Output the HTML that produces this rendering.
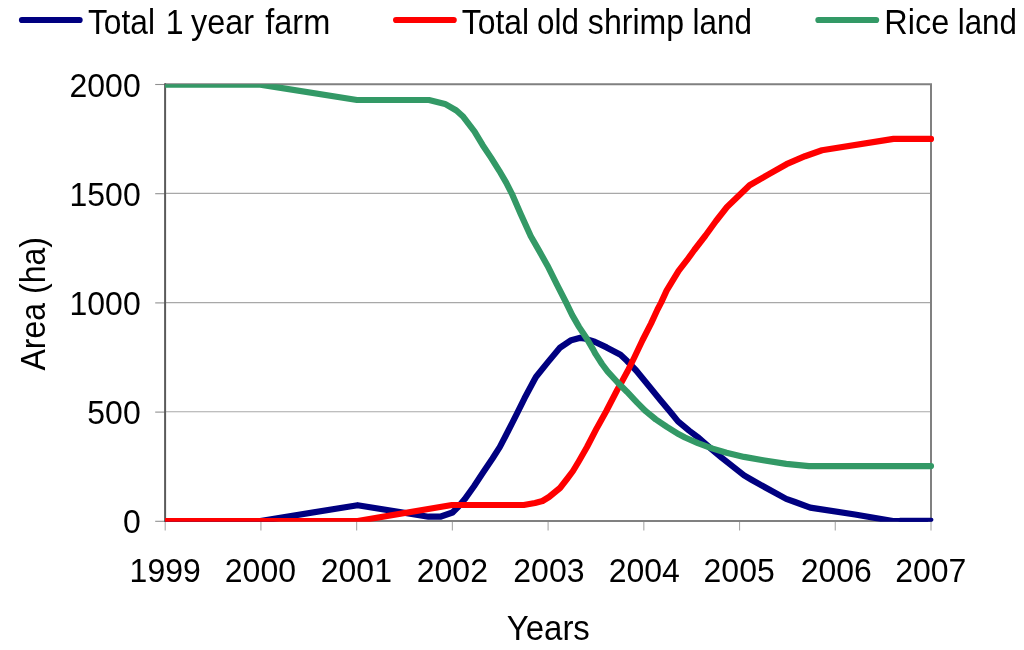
<!DOCTYPE html>
<html><head><meta charset="utf-8"><title>Chart</title>
<style>html,body{margin:0;padding:0;background:#fff;}body{width:1024px;height:650px;overflow:hidden;font-family:"Liberation Sans",sans-serif;}svg{display:block;will-change:transform;}</style>
</head><body>
<svg width="1024" height="650" viewBox="0 0 1024 650" font-family="Liberation Sans, sans-serif" fill="#000">
<defs><clipPath id="pc"><rect x="165" y="84.2" width="776" height="437.60"/></clipPath></defs>
<rect width="1024" height="650" fill="#fff"/>
<line x1="165" y1="411.80" x2="931" y2="411.80" stroke="#a8a8a8" stroke-width="1.1"/>
<line x1="165" y1="302.60" x2="931" y2="302.60" stroke="#a8a8a8" stroke-width="1.1"/>
<line x1="165" y1="193.40" x2="931" y2="193.40" stroke="#a8a8a8" stroke-width="1.1"/>
<polyline points="165,84.2 931,84.2 931,521.0" fill="none" stroke="#808080" stroke-width="2"/>
<line x1="155.2" y1="521.30" x2="165" y2="521.30" stroke="#909090" stroke-width="1.1"/>
<line x1="155.2" y1="412.10" x2="165" y2="412.10" stroke="#909090" stroke-width="1.1"/>
<line x1="155.2" y1="302.90" x2="165" y2="302.90" stroke="#909090" stroke-width="1.1"/>
<line x1="155.2" y1="193.70" x2="165" y2="193.70" stroke="#909090" stroke-width="1.1"/>
<line x1="155.2" y1="84.50" x2="165" y2="84.50" stroke="#909090" stroke-width="1.1"/>
<line x1="165.20" y1="521.0" x2="165.20" y2="530.5" stroke="#a8a8a8" stroke-width="1.1"/>
<line x1="260.92" y1="521.0" x2="260.92" y2="530.5" stroke="#a8a8a8" stroke-width="1.1"/>
<line x1="356.65" y1="521.0" x2="356.65" y2="530.5" stroke="#a8a8a8" stroke-width="1.1"/>
<line x1="452.37" y1="521.0" x2="452.37" y2="530.5" stroke="#a8a8a8" stroke-width="1.1"/>
<line x1="548.10" y1="521.0" x2="548.10" y2="530.5" stroke="#a8a8a8" stroke-width="1.1"/>
<line x1="643.83" y1="521.0" x2="643.83" y2="530.5" stroke="#a8a8a8" stroke-width="1.1"/>
<line x1="739.55" y1="521.0" x2="739.55" y2="530.5" stroke="#a8a8a8" stroke-width="1.1"/>
<line x1="835.27" y1="521.0" x2="835.27" y2="530.5" stroke="#a8a8a8" stroke-width="1.1"/>
<line x1="931.00" y1="521.0" x2="931.00" y2="530.5" stroke="#a8a8a8" stroke-width="1.1"/>
<line x1="164" y1="521.0" x2="932" y2="521.0" stroke="#808080" stroke-width="2"/>
<line x1="165.1" y1="83.2" x2="165.1" y2="522.0" stroke="#5a5a5a" stroke-width="2"/>
<g clip-path="url(#pc)" fill="none" stroke-width="6.2" stroke-linejoin="round" stroke-linecap="round">
<polyline points="165.2,521.0 260.3,521.0 357.6,505.2 428.5,516.7 440.2,516.7 452.5,512.5 458.5,506.5 464.8,499.1 474.0,486.2 483.2,472.3 492.5,458.5 499.9,446.9 508.5,430.3 517.8,411.8 524.5,398.3 534.4,379.8 536.1,376.7 548.1,361.9 560.1,347.6 571.2,340.2 579.5,337.9 584.1,338.4 594.7,341.7 606.6,347.4 620.5,354.8 626.9,360.8 636.2,370.5 649.1,386.2 660.5,400.2 670.6,412.2 678.0,421.4 689.1,430.6 698.9,438.0 710.9,448.6 721.9,457.9 744.1,475.4 751.1,479.5 767.7,488.8 786.2,498.9 795.0,502.0 810.2,507.6 855.0,514.5 893.0,521.0 925.0,521.0" stroke="#000080"/>
</g>
<line x1="900" y1="519.75" x2="931.4" y2="519.75" stroke="#000080" stroke-width="4.1" stroke-linecap="round"/>
<g clip-path="url(#pc)" fill="none" stroke-width="6.2" stroke-linejoin="round" stroke-linecap="round">
<polyline points="165.2,521.0 357.6,521.0 451.9,505.0 523.8,505.0 535.0,503.0 542.5,501.0 549.0,497.0 560.0,488.0 567.0,479.0 573.0,471.0 579.0,461.0 587.0,447.0 596.9,427.9 606.2,411.2 617.2,390.0 621.4,382.5 627.9,370.5 634.3,357.5 642.6,340.0 651.1,323.4 657.5,309.5 661.1,302.6 666.6,290.6 672.2,281.4 678.6,270.8 686.9,260.2 694.3,250.0 705.5,235.5 716.0,221.0 727.0,207.0 740.0,194.5 749.6,185.2 768.1,174.6 786.5,164.2 805.0,156.2 822.0,150.3 893.5,138.9 931.0,138.9" stroke="#ff0000"/>
<polyline points="165.2,84.6 260.3,84.6 357.0,100.0 429.0,100.0 445.0,103.9 456.4,110.5 463.3,116.8 474.4,131.3 482.7,145.2 491.0,157.6 499.3,170.8 506.2,182.6 511.8,193.6 520.7,214.0 530.8,236.2 538.2,249.1 547.5,265.7 556.7,284.1 566.1,302.5 572.1,314.9 579.0,326.9 586.4,338.0 592.9,349.1 595.5,353.9 602.0,364.0 607.5,371.4 617.7,382.5 626.9,391.7 634.3,399.6 637.4,402.9 645.7,411.2 655.9,419.5 666.9,426.9 678.9,434.3 685.0,437.5 697.9,443.1 712.7,448.6 726.5,452.8 744.1,456.9 763.1,460.2 786.2,463.9 808.9,466.1 931.0,466.1" stroke="#339966"/>
</g>
<text x="140.70" y="0" transform="translate(0,533.40) scale(1,1.065)" text-anchor="end" font-size="32" >0</text>
<text x="140.70" y="0" transform="translate(0,424.20) scale(1,1.065)" text-anchor="end" font-size="32" >500</text>
<text x="140.70" y="0" transform="translate(0,315.00) scale(1,1.065)" text-anchor="end" font-size="32" >1000</text>
<text x="140.70" y="0" transform="translate(0,205.80) scale(1,1.065)" text-anchor="end" font-size="32" >1500</text>
<text x="140.70" y="0" transform="translate(0,96.60) scale(1,1.065)" text-anchor="end" font-size="32" >2000</text>
<text x="165.20" y="0" transform="translate(0,581.70) scale(1,1.065)" text-anchor="middle" font-size="32" >1999</text>
<text x="260.42" y="0" transform="translate(0,581.70) scale(1,1.065)" text-anchor="middle" font-size="32" >2000</text>
<text x="356.35" y="0" transform="translate(0,581.70) scale(1,1.065)" text-anchor="middle" font-size="32" >2001</text>
<text x="452.37" y="0" transform="translate(0,581.70) scale(1,1.065)" text-anchor="middle" font-size="32" >2002</text>
<text x="548.90" y="0" transform="translate(0,581.70) scale(1,1.065)" text-anchor="middle" font-size="32" >2003</text>
<text x="644.33" y="0" transform="translate(0,581.70) scale(1,1.065)" text-anchor="middle" font-size="32" >2004</text>
<text x="739.15" y="0" transform="translate(0,581.70) scale(1,1.065)" text-anchor="middle" font-size="32" >2005</text>
<text x="836.27" y="0" transform="translate(0,581.70) scale(1,1.065)" text-anchor="middle" font-size="32" >2006</text>
<text x="930.75" y="0" transform="translate(0,581.70) scale(1,1.065)" text-anchor="middle" font-size="32" >2007</text>
<text x="548.30" y="0" transform="translate(0,640.40) scale(1,1.08)" text-anchor="middle" font-size="33" >Years</text>
<text x="0" y="0" transform="translate(44.6,303.8) rotate(-90) scale(1,1.1)" text-anchor="middle" font-size="32">Area (ha)</text>
<g stroke-width="6.2" stroke-linecap="round">
<line x1="22" y1="20" x2="79.6" y2="20" stroke="#000080"/>
<line x1="396.1" y1="20" x2="453.7" y2="20" stroke="#ff0000"/>
<line x1="818.4" y1="20" x2="876.1" y2="20" stroke="#339966"/>
</g>
<text x="-0.72" y="0" transform="translate(88.70,34.0) scale(0.9915,1.08)" font-size="32">Total</text>
<text x="-2.44" y="0" transform="translate(168.10,34.0) scale(1.0000,1.08)" font-size="32">1</text>
<text x="-0.08" y="0" transform="translate(191.20,34.0) scale(1.0110,1.08)" font-size="32">year</text>
<text x="-0.45" y="0" transform="translate(265.70,34.0) scale(1.0167,1.08)" font-size="32">farm</text>
<text x="-0.72" y="0" transform="translate(462.50,34.0) scale(0.9961,1.08)" font-size="32">Total</text>
<text x="-1.34" y="0" transform="translate(538.40,34.0) scale(0.9809,1.08)" font-size="32">old</text>
<text x="-0.89" y="0" transform="translate(588.75,34.0) scale(1.0027,1.08)" font-size="32">shrimp</text>
<text x="-2.16" y="0" transform="translate(694.70,34.0) scale(0.9809,1.08)" font-size="32">land</text>
<text x="-2.62" y="0" transform="translate(887.00,34.0) scale(1.0133,1.08)" font-size="32">Rice</text>
<text x="-2.16" y="0" transform="translate(959.90,34.0) scale(0.9774,1.08)" font-size="32">land</text>
</svg>
</body></html>
